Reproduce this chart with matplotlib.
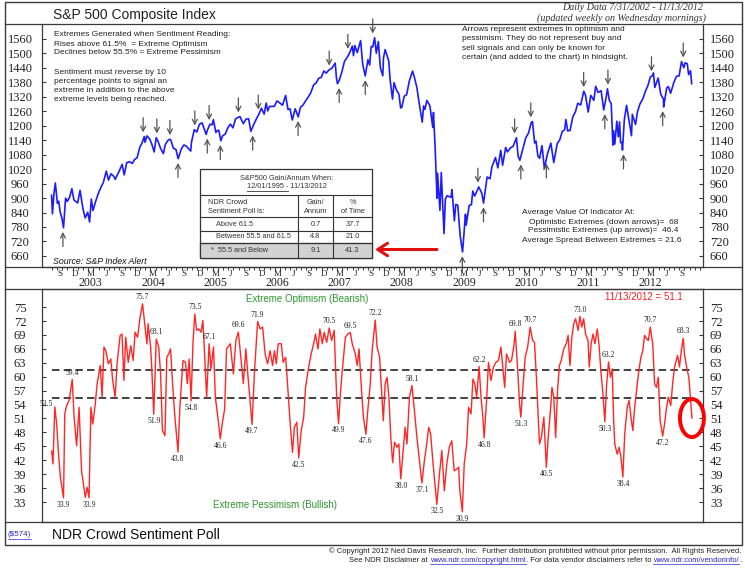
import numpy as np
import pandas as pd
import matplotlib
matplotlib.use("Agg")
import matplotlib.pyplot as plt
import matplotlib.transforms as mtrans
from matplotlib.patches import Rectangle, Ellipse

plt.rcParams['font.family'] = ['Liberation Sans', 'DejaVu Sans']

# ---------------- data ----------------
sp_dates = [
    "2002-07-31", "2002-08-05", "2002-08-14", "2002-08-22", "2002-09-03", "2002-09-11", "2002-09-19", "2002-09-30",
    "2002-10-09", "2002-10-21", "2002-10-31", "2002-11-14", "2002-11-27", "2002-12-09", "2002-12-31",
    "2003-01-14", "2003-01-31", "2003-02-13", "2003-02-28", "2003-03-11", "2003-03-21", "2003-03-31", "2003-04-15",
    "2003-04-30", "2003-05-16", "2003-05-30", "2003-06-17", "2003-06-30", "2003-07-14", "2003-07-31", "2003-08-08",
    "2003-08-29", "2003-09-18", "2003-09-30", "2003-10-15", "2003-10-31", "2003-11-17", "2003-11-28", "2003-12-15",
    "2003-12-31",
    "2004-01-12", "2004-01-26", "2004-01-30", "2004-02-11", "2004-02-27", "2004-03-10", "2004-03-24", "2004-03-31",
    "2004-04-05", "2004-04-16", "2004-04-30", "2004-05-17", "2004-05-28", "2004-06-10", "2004-06-23", "2004-06-30",
    "2004-07-15", "2004-07-30", "2004-08-12", "2004-08-31", "2004-09-15", "2004-09-30", "2004-10-14", "2004-10-25",
    "2004-10-29", "2004-11-15", "2004-11-30", "2004-12-15", "2004-12-31",
    "2005-01-24", "2005-01-31", "2005-02-15", "2005-02-28", "2005-03-07", "2005-03-22", "2005-03-31", "2005-04-08",
    "2005-04-20", "2005-04-29", "2005-05-16", "2005-05-31", "2005-06-15", "2005-06-30", "2005-07-15", "2005-07-29",
    "2005-08-10", "2005-08-30", "2005-09-15", "2005-09-30", "2005-10-13", "2005-10-31", "2005-11-15", "2005-11-30",
    "2005-12-14", "2005-12-30",
    "2006-01-11", "2006-01-20", "2006-01-31", "2006-02-15", "2006-02-28", "2006-03-15", "2006-03-31", "2006-04-17",
    "2006-04-28", "2006-05-05", "2006-05-19", "2006-05-31", "2006-06-13", "2006-06-30", "2006-07-18", "2006-07-31",
    "2006-08-15", "2006-08-31", "2006-09-15", "2006-09-29", "2006-10-16", "2006-10-31", "2006-11-15", "2006-11-30",
    "2006-12-15", "2006-12-29",
    "2007-01-15", "2007-01-31", "2007-02-20", "2007-02-27", "2007-03-05", "2007-03-15", "2007-03-30", "2007-04-16",
    "2007-04-30", "2007-05-15", "2007-05-31", "2007-06-07", "2007-06-15", "2007-06-29", "2007-07-19", "2007-07-31",
    "2007-08-15", "2007-08-31", "2007-09-10", "2007-09-19", "2007-09-28", "2007-10-09", "2007-10-19", "2007-10-31",
    "2007-11-12", "2007-11-26", "2007-11-30", "2007-12-10", "2007-12-31",
    "2008-01-08", "2008-01-22", "2008-01-31", "2008-02-14", "2008-02-29", "2008-03-10", "2008-03-17", "2008-03-31",
    "2008-04-14", "2008-04-30", "2008-05-19", "2008-05-30", "2008-06-13", "2008-06-30", "2008-07-15", "2008-07-23",
    "2008-07-31", "2008-08-11", "2008-08-29", "2008-09-15", "2008-09-19", "2008-09-29", "2008-10-10", "2008-10-13",
    "2008-10-27", "2008-11-04", "2008-11-20", "2008-11-28", "2008-12-08", "2008-12-31",
    "2009-01-06", "2009-01-20", "2009-01-28", "2009-02-09", "2009-02-23", "2009-03-09", "2009-03-26", "2009-03-30",
    "2009-04-17", "2009-04-30", "2009-05-08", "2009-05-19", "2009-06-12", "2009-06-30", "2009-07-10", "2009-07-31",
    "2009-08-17", "2009-08-28", "2009-09-18", "2009-10-02", "2009-10-19", "2009-10-30", "2009-11-17", "2009-11-27",
    "2009-12-15", "2009-12-31",
    "2010-01-19", "2010-01-29", "2010-02-08", "2010-02-26", "2010-03-15", "2010-03-31", "2010-04-15", "2010-04-23",
    "2010-05-06", "2010-05-14", "2010-05-25", "2010-06-04", "2010-06-18", "2010-07-02", "2010-07-20", "2010-08-09",
    "2010-08-26", "2010-09-15", "2010-09-30", "2010-10-15", "2010-10-29", "2010-11-05", "2010-11-16", "2010-11-30",
    "2010-12-15", "2010-12-31",
    "2011-01-14", "2011-01-31", "2011-02-18", "2011-02-28", "2011-03-16", "2011-03-31", "2011-04-18", "2011-04-29",
    "2011-05-13", "2011-05-31", "2011-06-15", "2011-06-30", "2011-07-07", "2011-07-18", "2011-07-29", "2011-08-08",
    "2011-08-12", "2011-08-19", "2011-08-31", "2011-09-09", "2011-09-16", "2011-09-22", "2011-09-30", "2011-10-03",
    "2011-10-14", "2011-10-27", "2011-11-09", "2011-11-25", "2011-11-30", "2011-12-19", "2011-12-30",
    "2012-01-13", "2012-01-31", "2012-02-15", "2012-02-29", "2012-03-15", "2012-03-30", "2012-04-02", "2012-04-10",
    "2012-04-30", "2012-05-15", "2012-05-31", "2012-06-01", "2012-06-19", "2012-06-29", "2012-07-12", "2012-07-31",
    "2012-08-16", "2012-08-31", "2012-09-14", "2012-09-28", "2012-10-05", "2012-10-18", "2012-10-26", "2012-11-06",
    "2012-11-13",
]
sp_values = [
    911.6, 834.6, 919.6, 962.7, 878.0, 886.9, 843.3, 815.3,
    776.8, 899.7, 885.8, 904.3, 938.9, 892.0, 879.8,
    931.7, 855.7, 817.4, 841.2, 800.7, 895.8, 848.2, 885.2,
    916.9, 944.3, 963.6, 1011.7, 974.5, 1000.4, 990.3, 977.6,
    1008.0, 1039.6, 996.0, 1046.9, 1050.7, 1043.6, 1058.2, 1068.0,
    1111.9,
    1127.2, 1155.4, 1131.1, 1157.8, 1144.9, 1123.9, 1091.3, 1126.2,
    1150.6, 1134.6, 1107.3, 1084.1, 1120.7, 1136.5, 1144.1, 1140.8,
    1106.7, 1101.7, 1063.2, 1104.2, 1120.4, 1114.6, 1103.3, 1094.8,
    1130.2, 1183.8, 1173.8, 1205.7, 1211.9,
    1163.8, 1181.3, 1206.1, 1203.6, 1225.3, 1171.7, 1180.6, 1181.2,
    1137.5, 1156.9, 1165.7, 1191.5, 1206.6, 1191.3, 1227.9, 1234.2,
    1237.8, 1208.4, 1227.7, 1228.8, 1176.8, 1207.0, 1229.0, 1249.5,
    1272.7, 1248.3,
    1294.2, 1261.5, 1280.1, 1280.0, 1280.7, 1303.0, 1294.9, 1285.3,
    1310.6, 1325.8, 1267.0, 1270.1, 1223.7, 1270.2, 1236.9, 1276.7,
    1285.6, 1303.8, 1319.7, 1335.9, 1369.1, 1377.9, 1396.6, 1400.6,
    1427.1, 1418.3,
    1431.9, 1438.2, 1459.7, 1399.0, 1374.1, 1387.2, 1420.9, 1468.5,
    1482.4, 1501.2, 1530.6, 1490.7, 1532.9, 1503.4, 1553.1, 1455.3,
    1406.7, 1474.0, 1451.7, 1529.0, 1526.8, 1565.2, 1500.6, 1549.4,
    1439.2, 1407.2, 1481.1, 1515.9, 1468.4,
    1390.2, 1310.5, 1378.6, 1348.9, 1330.6, 1273.4, 1276.6, 1322.7,
    1328.3, 1385.6, 1426.6, 1400.4, 1360.0, 1280.0, 1214.9, 1282.2,
    1267.4, 1305.3, 1282.8, 1192.7, 1255.1, 1106.4, 899.2, 1003.4,
    848.9, 1005.8, 752.4, 896.2, 909.7, 903.3,
    934.7, 805.2, 874.1, 869.9, 743.3, 676.5, 832.9, 787.5,
    869.6, 872.8, 929.2, 908.1, 946.2, 919.3, 879.1, 987.5,
    979.7, 1028.9, 1068.3, 1025.2, 1097.9, 1036.2, 1110.3, 1091.5,
    1107.9, 1115.1,
    1150.2, 1073.9, 1056.7, 1104.5, 1150.5, 1169.4, 1211.7, 1217.3,
    1128.2, 1135.7, 1074.0, 1064.9, 1117.5, 1022.6, 1083.5, 1127.8,
    1047.2, 1125.1, 1141.2, 1176.2, 1183.3, 1225.9, 1178.3, 1180.6,
    1235.2, 1257.6,
    1293.2, 1286.1, 1343.0, 1327.2, 1256.9, 1325.8, 1305.1, 1363.6,
    1338.0, 1345.2, 1265.4, 1320.6, 1353.2, 1305.4, 1292.3, 1119.5,
    1178.8, 1123.5, 1218.9, 1154.2, 1216.0, 1129.6, 1131.4, 1099.2,
    1224.6, 1284.6, 1229.1, 1158.7, 1247.0, 1205.4, 1257.6,
    1289.1, 1312.4, 1343.2, 1365.7, 1402.6, 1408.5, 1419.0, 1358.6,
    1397.9, 1330.7, 1310.3, 1278.0, 1357.0, 1362.2, 1334.8, 1379.3,
    1405.5, 1406.6, 1465.8, 1440.7, 1460.9, 1457.3, 1411.9, 1428.4,
    1374.5,
]

# NDR Crowd Sentiment Poll (decimal years, percent)
sent_years = [
    2002.58, 2002.60, 2002.63, 2002.66, 2002.69, 2002.72, 2002.77, 2002.79, 2002.82, 2002.86, 2002.91, 2002.94,
    2002.98, 2003.02, 2003.06, 2003.12, 2003.15, 2003.18, 2003.21, 2003.24, 2003.28, 2003.31, 2003.36, 2003.39,
    2003.42, 2003.45, 2003.49, 2003.53, 2003.56, 2003.60, 2003.63, 2003.68, 2003.71, 2003.74, 2003.77, 2003.81,
    2003.85, 2003.89, 2003.92, 2003.96, 2004.00, 2004.04, 2004.08, 2004.11, 2004.13, 2004.17, 2004.19, 2004.22,
    2004.26, 2004.30, 2004.33, 2004.36, 2004.40, 2004.43, 2004.46, 2004.49, 2004.53, 2004.56, 2004.61, 2004.64,
    2004.69, 2004.73, 2004.76, 2004.79, 2004.82, 2004.85, 2004.88, 2004.91, 2004.94, 2004.98, 2005.01, 2005.04,
    2005.07, 2005.11, 2005.14, 2005.18, 2005.21, 2005.25, 2005.29, 2005.32, 2005.36, 2005.39, 2005.45, 2005.50,
    2005.54, 2005.58, 2005.62, 2005.66, 2005.70, 2005.74, 2005.80, 2005.84, 2005.89, 2005.93, 2005.97, 2006.01,
    2006.05, 2006.09, 2006.13, 2006.16, 2006.19, 2006.22, 2006.27, 2006.30, 2006.34, 2006.37, 2006.41, 2006.45,
    2006.48, 2006.52, 2006.55, 2006.59, 2006.63, 2006.66, 2006.71, 2006.75, 2006.79, 2006.82, 2006.86, 2006.89,
    2006.93, 2006.96, 2007.00, 2007.04, 2007.08, 2007.12, 2007.16, 2007.19, 2007.22, 2007.25, 2007.30, 2007.34,
    2007.38, 2007.41, 2007.46, 2007.49, 2007.52, 2007.56, 2007.59, 2007.63, 2007.66, 2007.70, 2007.73, 2007.78,
    2007.81, 2007.85, 2007.89, 2007.91, 2007.94, 2007.97, 2008.00, 2008.03, 2008.06, 2008.09, 2008.13, 2008.16,
    2008.19, 2008.22, 2008.26, 2008.29, 2008.33, 2008.37, 2008.41, 2008.45, 2008.49, 2008.53, 2008.57, 2008.60,
    2008.64, 2008.67, 2008.71, 2008.74, 2008.77, 2008.81, 2008.85, 2008.89, 2008.93, 2008.97, 2009.01, 2009.05,
    2009.09, 2009.12, 2009.14, 2009.18, 2009.21, 2009.25, 2009.28, 2009.32, 2009.35, 2009.38, 2009.41, 2009.45,
    2009.48, 2009.51, 2009.53, 2009.57, 2009.60, 2009.64, 2009.68, 2009.72, 2009.76, 2009.80, 2009.83, 2009.86,
    2009.89, 2009.94, 2009.97, 2010.01, 2010.03, 2010.07, 2010.10, 2010.12, 2010.15, 2010.19, 2010.23, 2010.27,
    2010.31, 2010.34, 2010.37, 2010.40, 2010.42, 2010.45, 2010.49, 2010.53, 2010.56, 2010.60, 2010.62, 2010.65,
    2010.68, 2010.71, 2010.74, 2010.77, 2010.81, 2010.85, 2010.88, 2010.91, 2010.94, 2010.97, 2011.00, 2011.04,
    2011.07, 2011.10, 2011.13, 2011.16, 2011.20, 2011.22, 2011.25, 2011.28, 2011.31, 2011.35, 2011.38, 2011.41,
    2011.44, 2011.47, 2011.50, 2011.53, 2011.56, 2011.59, 2011.61, 2011.63, 2011.67, 2011.70, 2011.73, 2011.76,
    2011.79, 2011.83, 2011.86, 2011.89, 2011.92, 2011.95, 2011.98, 2012.01, 2012.05, 2012.08, 2012.11, 2012.14,
    2012.17, 2012.20, 2012.24, 2012.27, 2012.30, 2012.33, 2012.36, 2012.40, 2012.43, 2012.46, 2012.49, 2012.53,
    2012.56, 2012.59, 2012.64, 2012.67, 2012.70, 2012.73, 2012.75, 2012.79, 2012.82, 2012.85, 2012.87,
]
sent_values = [
    44.0, 41.2, 53.5, 49.8, 43.3, 38.3, 33.9, 52.0, 53.8, 54.9, 59.4, 51.3,
    45.1, 53.4, 39.7, 34.0, 36.2, 33.9, 53.4, 49.8, 54.1, 58.5, 62.4, 55.6,
    66.4, 65.6, 62.8, 63.8, 59.2, 55.6, 62.8, 68.9, 69.2, 59.2, 68.5, 63.1,
    66.7, 63.5, 69.6, 68.5, 72.8, 75.7, 70.7, 67.1, 71.4, 66.4, 61.3, 51.9,
    68.1, 66.4, 60.6, 48.4, 47.3, 64.2, 64.9, 66.0, 57.0, 51.3, 43.8, 53.4,
    63.5, 63.1, 58.5, 63.8, 54.8, 67.1, 73.5, 70.0, 70.3, 69.6, 72.1, 64.2,
    55.6, 67.1, 61.7, 66.4, 55.6, 51.3, 46.6, 49.8, 53.1, 66.0, 67.1, 60.6,
    67.8, 69.6, 64.2, 58.5, 66.0, 59.2, 49.7, 61.3, 71.9, 70.3, 70.7, 64.9,
    62.8, 65.6, 62.4, 65.6, 62.8, 67.1, 67.1, 63.1, 64.2, 58.5, 50.5, 43.7,
    49.1, 50.2, 42.5, 48.4, 51.3, 57.7, 62.1, 64.9, 67.1, 69.2, 66.0, 70.3,
    67.1, 69.6, 67.4, 70.5, 67.8, 70.0, 55.6, 49.9, 56.3, 61.3, 68.5, 69.2,
    69.5, 67.1, 64.9, 62.4, 66.0, 57.0, 51.3, 47.6, 52.7, 58.5, 65.6, 72.2,
    66.4, 64.2, 54.9, 50.5, 58.5, 59.9, 55.6, 46.9, 41.5, 45.9, 44.8, 45.5,
    38.0, 42.6, 49.1, 45.5, 55.6, 58.1, 52.7, 46.9, 41.9, 37.1, 41.9, 44.8,
    49.1, 47.7, 41.2, 36.9, 32.5, 38.7, 44.1, 35.4, 41.2, 44.8, 46.2, 39.7,
    40.1, 40.5, 35.4, 30.9, 41.2, 45.5, 53.4, 52.0, 59.5, 58.5, 55.6, 62.2,
    55.6, 51.3, 46.8, 54.9, 63.1, 59.2, 62.1, 63.1, 63.5, 66.4, 62.1, 57.7,
    64.9, 63.1, 63.5, 66.7, 69.8, 61.3, 54.1, 51.3, 57.0, 64.2, 66.4, 70.7,
    67.8, 67.4, 59.9, 51.3, 45.5, 46.9, 51.3, 40.5, 46.9, 53.4, 57.7, 55.6,
    46.9, 57.0, 62.4, 63.5, 66.0, 67.1, 68.9, 62.4, 68.5, 71.4, 72.5, 70.0,
    73.0, 70.7, 72.5, 69.2, 67.8, 62.1, 67.1, 69.2, 67.1, 70.3, 66.4, 60.6,
    56.3, 50.3, 58.5, 63.2, 59.9, 61.7, 51.3, 45.5, 43.3, 44.8, 42.6, 38.4,
    47.7, 53.4, 54.9, 51.3, 48.4, 53.4, 57.0, 60.6, 64.2, 65.6, 68.9, 68.2,
    67.8, 70.7, 67.1, 58.5, 57.7, 59.9, 50.5, 47.2, 49.8, 53.1, 55.6, 53.8,
    58.5, 62.1, 64.6, 62.1, 65.6, 68.3, 64.9, 61.7, 59.9, 54.9, 51.1,
]

# labelled sentiment extremes
peak_years = [2002.63, 2002.91, 2004.04, 2004.26, 2004.88, 2005.11, 2005.58, 2005.89, 2007.04, 2007.38,
              2007.78, 2008.37, 2009.45, 2010.03, 2010.27, 2011.07, 2011.53, 2012.20, 2012.73]
peak_values = [53.5, 59.4, 75.7, 68.1, 73.5, 67.1, 69.6, 71.9, 70.5, 69.5,
               72.2, 58.1, 62.2, 69.8, 70.7, 73.0, 63.2, 70.7, 68.3]
trough_years = [2002.77, 2003.18, 2004.22, 2004.61, 2004.82, 2005.29, 2005.80, 2006.55, 2007.19, 2007.63,
                2008.19, 2008.53, 2008.77, 2009.18, 2009.53, 2010.12, 2010.53, 2011.47, 2011.76, 2012.40]
trough_values = [33.9, 33.9, 51.9, 43.8, 54.8, 46.6, 49.7, 42.5, 49.9, 47.6,
                 38.0, 37.1, 32.5, 30.9, 46.8, 51.3, 40.5, 50.3, 38.4, 47.2]

# arrows on the S&P panel (decimal years)
arrow_down_years = [2004.05, 2004.27, 2004.48, 2004.88, 2005.11, 2005.58, 2005.90, 2007.04, 2007.34, 2007.74,
                    2009.43, 2010.02, 2010.28, 2011.13, 2011.52, 2012.22, 2012.73]
arrow_up_years = [2002.76, 2004.61, 2005.08, 2005.29, 2005.81, 2006.54, 2007.20, 2007.62, 2009.18, 2009.52,
                  2010.12, 2010.53, 2011.47, 2011.77, 2012.40]

optimism_level = 61.5
pessimism_level = 55.5
sp_ticks = list(range(660, 1561, 60))
sent_ticks = list(range(33, 76, 3))

table_gain = [0.7, 4.8, 9.1]
table_time = [37.7, 21.0, 41.3]
avg_optimistic = 68
avg_pessimistic = 46.4
avg_spread = 21.6

# ---------------- figure ----------------
W, H = 745, 568
fig = plt.figure(figsize=(W / 100, H / 100), dpi=100)
fig.patch.set_facecolor('white')


def fx(px):
    return px / W


def fy(py):
    return 1 - py / H


LINEC = '#3a3a3a'
SERIF = 'Liberation Serif'
XL, XR = 42, 702.5
xlim = (2002.424, 2013.04)

ax1 = fig.add_axes([fx(XL), fy(267), fx(XR) - fx(XL), fy(24) - fy(267)])
ax2 = fig.add_axes([fx(XL), fy(522), fx(XR) - fx(XL), fy(289) - fy(522)])

dt = pd.to_datetime(pd.Series(sp_dates))
sp_yr = (dt.dt.year + (dt.dt.dayofyear - 1) / np.where(dt.dt.is_leap_year, 366, 365)).to_numpy()
sp_v = np.array(sp_values)

# --- top panel
ax1.plot(sp_yr, sp_v, color='#1c1cff', lw=1.2, zorder=3)
ax1.set_xlim(*xlim)
ax1.set_ylim(614, 1622)
ax1.spines['top'].set_visible(False)
for s in ('left', 'right', 'bottom'):
    ax1.spines[s].set_color(LINEC)
    ax1.spines[s].set_linewidth(0.9)
ax1.set_yticks(sp_ticks)
ax1.tick_params(axis='y', direction='in', length=3, left=True, right=True,
                labelleft=False, labelright=False, color=LINEC, width=0.8)

# x ticks: months
month_starts = [y + (m - 1) / 12 for y in range(2002, 2014) for m in range(1, 13)
                if sp_yr[0] - 0.01 <= y + (m - 1) / 12 <= xlim[1]]
ax1.set_xticks(month_starts, minor=True)
ax1.set_xticks([])
ax1.tick_params(axis='x', which='minor', direction='out', length=2.5, color=LINEC, width=0.7)

# --- bottom panel
ax2.plot(sent_years, sent_values, color='#ff2626', lw=1.0, zorder=3)
ax2.hlines([optimism_level, pessimism_level], sent_years[0], sent_years[-1],
           colors='#222222', linestyles=(0, (4.5, 2.5)), lw=1.2, zorder=2)
ax2.set_xlim(*xlim)
ax2.set_ylim(28.7, 78.9)
for s in ax2.spines.values():
    s.set_color(LINEC)
    s.set_linewidth(0.9)
ax2.set_xticks([])
ax2.set_yticks(sent_ticks)
ax2.tick_params(axis='y', direction='in', length=3, left=True, right=True,
                labelleft=False, labelright=False, color=LINEC, width=0.8)


def ylabels(ax, ticks):
    tr = mtrans.blended_transform_factory(fig.transFigure, ax.transData)
    for t in ticks:
        ax.text(fx(20), t, str(t), transform=tr, ha='center', va='center_baseline',
                fontsize=9, family=SERIF, color='#222222', clip_on=False)
        ax.text(fx(710), t, str(t), transform=tr, ha='left', va='center_baseline',
                fontsize=9, family=SERIF, color='#222222', clip_on=False)


ylabels(ax1, sp_ticks)
ylabels(ax2, sent_ticks)

# month letters and years
tb = mtrans.blended_transform_factory(ax1.transData, fig.transFigure)
letters = {3: 'M', 6: 'J', 9: 'S', 12: 'D'}
for y in range(2002, 2013):
    for m in (3, 6, 9, 12):
        xm = y + (m - 0.5) / 12
        if sp_yr[0] <= xm <= sp_yr[-1]:
            ax1.text(xm, fy(273.5), letters[m], transform=tb, ha='center', va='center',
                     fontsize=6.5, family=SERIF, color='#222222', clip_on=False)
    if y >= 2003:
        ax1.text(y + 2.5 / 12, fy(283.5), str(y), transform=tb, ha='center', va='center',
                 fontsize=8.5, family=SERIF, color='#222222', clip_on=False)

# arrows on S&P
arrow_kw = dict(arrowstyle='->,head_length=0.35,head_width=0.18', color='#555555', lw=0.9,
                shrinkA=0, shrinkB=3)


def ref_value(yr, mode):
    base = np.interp(yr, sp_yr, sp_v)
    win = sp_v[(sp_yr > yr - 0.03) & (sp_yr < yr + 0.03)]
    vals = np.append(win, base)
    return vals.max() if mode == 'max' else vals.min()


for yr in arrow_down_years:
    r = ref_value(yr, 'max')
    ax1.annotate('', xy=(yr, r), xytext=(0, 13.5), textcoords='offset points',
                 arrowprops=arrow_kw, annotation_clip=False, zorder=4)
for yr in arrow_up_years:
    r = ref_value(yr, 'min')
    ax1.annotate('', xy=(yr, r), xytext=(0, -13.5), textcoords='offset points',
                 arrowprops=arrow_kw, annotation_clip=False, zorder=4)

# labels on sentiment extremes
for i, (yr, v) in enumerate(zip(peak_years, peak_values)):
    off = (-6, -1) if i == 0 else (0, 2)
    ax2.annotate(f"{v:.1f}", xy=(yr, v), xytext=off, textcoords='offset points',
                 ha='center', va='bottom', fontsize=5.5, family=SERIF, color='#222222', zorder=5)
for yr, v in zip(trough_years, trough_values):
    ax2.annotate(f"{v:.1f}", xy=(yr, v), xytext=(0, -2), textcoords='offset points',
                 ha='center', va='top', fontsize=5.5, family=SERIF, color='#222222', zorder=5)

# red ellipse around latest reading
ax2.add_patch(Ellipse((sent_years[-1], sent_values[-1]), 24 / 62.2, 38 / 4.633, fill=False,
                      ec='#ff0000', lw=2.8, clip_on=False, zorder=6))

green = '#2f962f'
ax2.text(fx(307), fy(299), 'Extreme Optimism (Bearish)', transform=fig.transFigure, ha='center',
         va='center', fontsize=7, color=green)
ax2.text(fx(275), fy(505), 'Extreme Pessimism (Bullish)', transform=fig.transFigure, ha='center',
         va='center', fontsize=7, color=green)
end_dt = pd.to_datetime(sp_dates[-1])
start_dt = pd.to_datetime(sp_dates[0])
ax2.text(fx(644), fy(297), f"{end_dt.month}/{end_dt.day}/{end_dt.year} = {sent_values[-1]}",
         transform=fig.transFigure, ha='center', va='center', fontsize=7, color='#ff2020')

# ---------------- overlay (pixel coordinates) ----------------
ov = fig.add_axes([0, 0, 1, 1], zorder=10)
ov.set_xlim(0, W)
ov.set_ylim(H, 0)
ov.axis('off')
ov.patch.set_alpha(0)
renderer = fig.canvas.get_renderer()


def wpx(t):
    return t.get_window_extent(renderer=renderer).width


ov.add_patch(Rectangle((5, 1.5), 737, 543.5, fill=False, ec=LINEC, lw=1.0))
for yy in (24, 267, 289, 522):
    ov.plot([5, 742], [yy, yy], color=LINEC, lw=0.9)

ov.text(53, 14.5, 'S&P 500 Composite Index', fontsize=10, ha='left', va='center', color='#222222')
ov.text(703, 8, f"Daily Data {start_dt.month}/{start_dt.day}/{start_dt.year} - "
        f"{end_dt.month}/{end_dt.day}/{end_dt.year}", fontsize=7.2, style='italic', family=SERIF,
        ha='right', va='center', color='#333333')
ov.text(706, 18, '(updated weekly on Wednesday mornings)', fontsize=7.2, style='italic', family=SERIF,
        ha='right', va='center', color='#333333')

left_notes = ["Extremes Generated when Sentiment Reading:",
              f"Rises above {optimism_level}%  = Extreme Optimism",
              f"Declines below {pessimism_level}% = Extreme Pessimism"]
for i, s in enumerate(left_notes):
    ov.text(54, 35 + 9 * i, s, fontsize=6, ha='left', va='center', color='#222222')
rev_notes = ["Sentiment must reverse by 10", "percentage points to signal an",
             "extreme in addition to the above", "extreme levels being reached."]
for i, s in enumerate(rev_notes):
    ov.text(54, 72 + 9.3 * i, s, fontsize=6, ha='left', va='center', color='#222222')
right_notes = ["Arrows represent extremes in optimism and", "pessimism. They do not represent buy and",
               "sell signals and can only be known for", "certain (and added to the chart) in hindsight."]
for i, s in enumerate(right_notes):
    ov.text(462, 29.5 + 9.3 * i, s, fontsize=6, ha='left', va='center', color='#222222')

ov.text(522, 213, 'Average Value Of Indicator At:', fontsize=6, ha='left', va='center', color='#222222')
ov.text(678, 222, f'Optimistic Extremes (down arrows)=  {avg_optimistic}', fontsize=6, ha='right',
        va='center', color='#222222')
ov.text(678, 231, f'Pessimistic Extremes (up arrows)=  {avg_pessimistic}', fontsize=6, ha='right',
        va='center', color='#222222')
ov.text(522, 240, f'Average Spread Between Extremes = {avg_spread}', fontsize=6, ha='left',
        va='center', color='#222222')

ov.text(53, 261.5, 'Source: S&P Index Alert', fontsize=6.3, style='italic', ha='left', va='center',
        color='#111111')

# table
TC = '#333333'
ov.add_patch(Rectangle((200, 169), 172, 89, fc='white', ec=TC, lw=0.9))
ov.add_patch(Rectangle((200, 243), 172, 15, fc='#d2d2d2', ec=TC, lw=0.9))
for yy in (195, 217, 231, 243):
    ov.plot([200, 372], [yy, yy], color=TC, lw=0.8)
for xx in (298, 333):
    ov.plot([xx, xx], [195, 258], color=TC, lw=0.8)
ts = dict(fontsize=5.3, va='center', color='#333333')
ov.text(287, 179, 'S&P500 Gain/Annum When:', ha='center', **ts)
part1 = '12/01/1995 - '
t_full = ov.text(287, 187, part1 + end_dt.strftime('%m/%d/%Y'), ha='center', **ts)
tmp = ov.text(0, 0, part1, ha='left', **ts)
w1 = wpx(tmp)
tmp.remove()
wf = wpx(t_full)
ov.plot([287 - wf / 2, 287 - wf / 2 + w1 - 2], [190.5, 190.5], color='#333333', lw=0.6)
ov.text(208, 203, 'NDR Crowd', ha='left', **ts)
ov.text(208, 211.5, 'Sentiment Poll is:', ha='left', **ts)
ov.text(315.5, 203, 'Gain/', ha='center', **ts)
ov.text(315.5, 211.5, 'Annum', ha='center', **ts)
ov.text(352.5, 203, '%', ha='center', **ts)
ov.text(352.5, 211.5, 'of Time', ha='center', **ts)
row_names = [f'Above {optimism_level}', f'Between {pessimism_level} and {optimism_level}',
             f'*  {pessimism_level} and Below']
row_y = [224.5, 237, 250.5]
row_x = [216, 216, 211]
for name, yy, xx, g, p in zip(row_names, row_y, row_x, table_gain, table_time):
    ov.text(xx, yy, name, ha='left', **ts)
    ov.text(315.5, yy, f'{g:.1f}', ha='center', **ts)
    ov.text(352.5, yy, f'{p:.1f}', ha='center', **ts)

ov.annotate('', xy=(375, 249.5), xytext=(437, 249.5), xycoords='data',
            arrowprops=dict(arrowstyle='->,head_length=0.7,head_width=0.45', color='#e01010', lw=2.2,
                            shrinkA=0, shrinkB=0))

# footer
blue = '#2a2acc'
t = ov.text(8, 535, '($574)', fontsize=5.8, ha='left', va='center', color=blue)
ov.plot([8, 8 + wpx(t)], [538.5, 538.5], color=blue, lw=0.5)
ov.text(52, 535, 'NDR Crowd Sentiment Poll', fontsize=10, ha='left', va='center', color='#111111')

ov.text(741, 551, '\u00a9 Copyright 2012 Ned Davis Research, Inc.  Further distribution prohibited without '
        'prior permission.  All Rights Reserved.', fontsize=5.5, ha='right', va='center', color='#222222')
pieces = [("See NDR Disclaimer at ", '#222222', False), ("www.ndr.com/copyright.html", blue, True),
          (". For data vendor disclaimers refer to ", '#222222', False),
          ("www.ndr.com/vendorinfo/", blue, True), (".", '#222222', False)]
xx = 741
for s, c, u in reversed(pieces):
    tt = ov.text(xx, 561, s, fontsize=5.5, ha='right', va='center', color=c)
    w = wpx(tt)
    if u:
        ov.plot([xx - w, xx], [564, 564], color=c, lw=0.5)
    xx -= w

fig.savefig('out.png', dpi=100, facecolor='white')
